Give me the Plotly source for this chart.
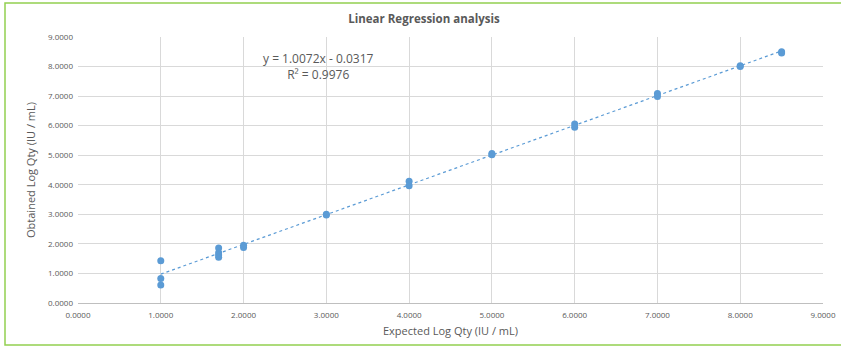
import numpy as np
import plotly.graph_objects as go

# Data
expected = [1.0, 1.0, 1.0, 1.699, 1.699, 1.699, 1.699, 2.0, 2.0, 3.0, 3.0,
            4.0, 4.0, 5.0, 5.0, 6.0, 6.0, 7.0, 7.0, 8.0, 8.0, 8.5, 8.5]
obtained = [1.43, 0.83, 0.61, 1.86, 1.70, 1.62, 1.55, 1.95, 1.88, 3.00, 2.98,
            4.12, 3.97, 5.06, 5.02, 6.06, 5.95, 7.09, 6.99, 8.03, 8.00, 8.50, 8.46]
slope = 1.0072
intercept = -0.0317
r2 = 0.9976
x_ticks = [0, 1, 2, 3, 4, 5, 6, 7, 8, 9]
y_ticks = [0, 1, 2, 3, 4, 5, 6, 7, 8, 9]

trend_x = np.array([min(expected), max(expected)])
trend_y = slope * trend_x + intercept

blue = "#5B9BD5"
grey_txt = "#595959"
font = "Open Sans"

fig = go.Figure()
fig.add_trace(go.Scatter(x=trend_x, y=trend_y, mode="lines",
                         line=dict(color=blue, width=1.2, dash="dot"),
                         hoverinfo="skip", showlegend=False))
fig.add_trace(go.Scatter(x=expected, y=obtained, mode="markers",
                         marker=dict(color=blue, size=7),
                         showlegend=False))

fig.add_annotation(x=2.9, y=8.0, xref="x", yref="y",
                   text=f"y = {slope:.4f}x - {abs(intercept):.4f}<br>R² = {r2:.4f}",
                   showarrow=False, align="center",
                   font=dict(family=font, size=12, color=grey_txt))

fig.update_layout(
    width=841, height=347,
    margin=dict(l=78, r=18, t=37, b=44, autoexpand=False),
    paper_bgcolor="white", plot_bgcolor="white",
    title=dict(text="<b>Linear Regression analysis</b>", x=424 / 841, xref="container",
               xanchor="center",
               y=1 - 19 / 347, yref="container", yanchor="middle",
               font=dict(family=font, size=11.5, color=grey_txt)),
    font=dict(family=font, color=grey_txt),
    xaxis=dict(range=[0, 9], tickvals=x_ticks, tickformat=".4f", automargin=False,
               showgrid=True, gridcolor="#D9D9D9", gridwidth=1,
               zeroline=False, showline=True, linecolor="#BFBFBF", linewidth=1,
               tickfont=dict(size=8, color=grey_txt), ticks="", ticklabelstandoff=4,
               title=dict(text="Expected Log Qty (IU / mL)", standoff=8,
                          font=dict(size=11, color=grey_txt))),
    yaxis=dict(range=[0, 9], tickvals=y_ticks, tickformat=".4f", automargin=False,
               showgrid=True, gridcolor="#D9D9D9", gridwidth=1,
               zeroline=False, showline=False, ticks="", ticklabelstandoff=4,
               tickfont=dict(size=8, color=grey_txt),
               title=dict(text="Obtained Log Qty (IU / mL)", standoff=10,
                          font=dict(size=11, color=grey_txt))),
)

# green chart border (in paper coordinates extended past the plot area)
pw = 841 - 78 - 18
ph = 347 - 37 - 44
x0 = (5 - 78) / pw
x1 = (845 - 78) / pw
y1 = (303 - 3) / ph
y0 = (303 - 345) / ph
fig.add_shape(type="rect", xref="paper", yref="paper", x0=x0, x1=x1, y0=y0, y1=y1,
              line=dict(color="#92D050", width=1.5), layer="below")

fig.write_html("out.html", config={"displayModeBar": False},
               post_script="document.body.style.margin='0';document.body.style.overflow='hidden';")
